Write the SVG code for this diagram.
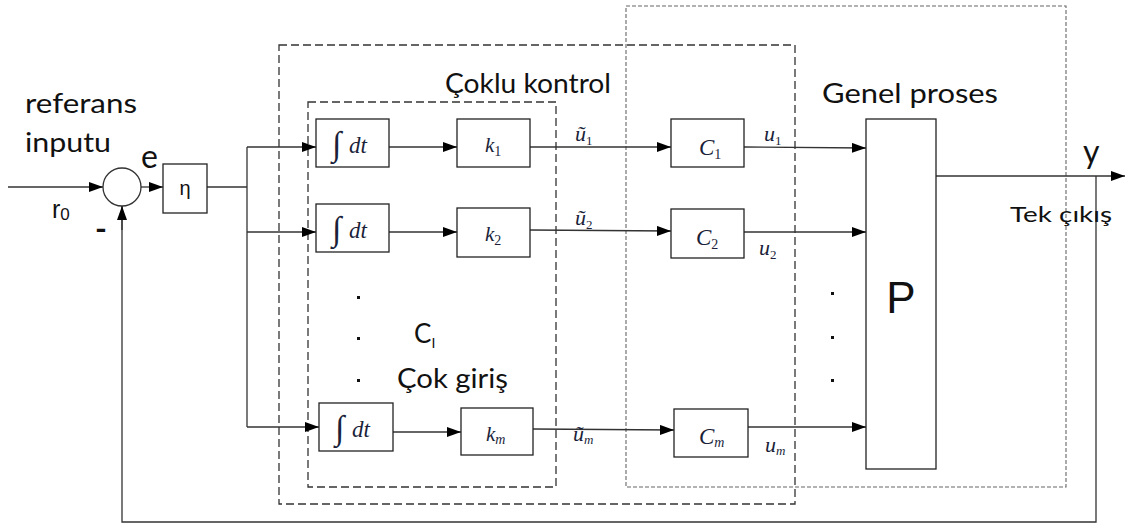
<svg xmlns="http://www.w3.org/2000/svg" width="1132" height="525" viewBox="0 0 1132 525">
<style>
.blk{fill:#fff;stroke:#222;stroke-width:1.3}
.ln{fill:none;stroke:#333;stroke-width:1.3}
.dA{fill:none;stroke:#333;stroke-width:1.3;stroke-dasharray:8 4}
.dB{fill:none;stroke:#666;stroke-width:1.1;stroke-dasharray:4 2}
.lbl{font-family:Lato,"Open Sans",sans-serif;fill:#111}
.m{font-family:"Liberation Serif",serif;font-style:italic;fill:#1b1f3a}
.sub{font-family:"Liberation Serif",serif;font-style:normal;fill:#1b1f3a}
.dot{fill:#111}
</style>
<defs>
<marker id="ar" markerWidth="14" markerHeight="10" refX="14" refY="5" orient="auto" markerUnits="userSpaceOnUse">
<path d="M0,0 L14,5 L0,10 Z" fill="#000"/>
</marker>
</defs>

<!-- dashed regions -->
<g id="region-coklu">
<rect class="dA" x="279" y="45" width="516" height="459"/>
<text class="lbl" x="445" y="93" font-size="26" textLength="166" lengthAdjust="spacingAndGlyphs">Çoklu kontrol</text>
</g>
<g id="region-ci">
<rect class="dA" x="308" y="102" width="248" height="385"/>
<text class="lbl" x="414" y="343" font-size="26">C<tspan font-size="14" dy="5">I</tspan></text>
<text class="lbl" x="397" y="388" font-size="26" textLength="111" lengthAdjust="spacingAndGlyphs">Çok giriş</text>
</g>
<g id="region-genel">
<rect class="dB" x="626" y="6" width="440" height="481"/>
<text class="lbl" x="822" y="103" font-size="26" textLength="176" lengthAdjust="spacingAndGlyphs">Genel proses</text>
</g>

<!-- connectors -->
<g id="connectors">
<line class="ln" x1="8" y1="187" x2="103" y2="187" marker-end="url(#ar)"/>
<line class="ln" x1="141" y1="187" x2="163" y2="187" marker-end="url(#ar)"/>
<polyline class="ln" points="207,187 247,187"/>
<line class="ln" x1="247" y1="147" x2="247" y2="427"/>
<line class="ln" x1="247" y1="147" x2="316" y2="147" marker-end="url(#ar)"/>
<line class="ln" x1="247" y1="232" x2="316" y2="232" marker-end="url(#ar)"/>
<line class="ln" x1="247" y1="427" x2="319" y2="427" marker-end="url(#ar)"/>
<line class="ln" x1="389" y1="147" x2="457" y2="147" marker-end="url(#ar)"/>
<line class="ln" x1="389" y1="232" x2="457" y2="232" marker-end="url(#ar)"/>
<line class="ln" x1="393" y1="432" x2="461" y2="432" marker-end="url(#ar)"/>
<line class="ln" x1="530" y1="147" x2="671" y2="147" marker-end="url(#ar)"/>
<line class="ln" x1="530" y1="230" x2="671" y2="231" marker-end="url(#ar)"/>
<line class="ln" x1="533" y1="429" x2="674" y2="430" marker-end="url(#ar)"/>
<line class="ln" x1="744" y1="147" x2="866" y2="148" marker-end="url(#ar)"/>
<line class="ln" x1="744" y1="232" x2="866" y2="232" marker-end="url(#ar)"/>
<line class="ln" x1="748" y1="427" x2="866" y2="427" marker-end="url(#ar)"/>
<line class="ln" x1="936" y1="176" x2="1125" y2="176" marker-end="url(#ar)"/>
<polyline class="ln" points="1096,176 1096,522 122,522 122,206"/>
<line class="ln" x1="122" y1="230" x2="122" y2="206" marker-end="url(#ar)"/>
</g>

<!-- labels outside nodes -->
<g id="labels">
<text class="lbl" x="25" y="113" font-size="27" textLength="112" lengthAdjust="spacingAndGlyphs">referans</text>
<text class="lbl" x="25" y="152" font-size="27" textLength="86" lengthAdjust="spacingAndGlyphs">inputu</text>
<text class="lbl" x="141" y="168" font-size="32">e</text>
<text x="52" y="218" font-family="Liberation Sans,sans-serif" font-size="25" fill="#111">r<tspan font-size="17" dy="2">0</tspan></text>
<text class="lbl" x="95" y="240" font-size="32" font-weight="bold">-</text>
<text class="m" x="575" y="141" font-size="22">ũ<tspan class="sub" font-size="13" dy="4">1</tspan></text>
<text class="m" x="575" y="225" font-size="22">ũ<tspan class="sub" font-size="13" dy="4">2</tspan></text>
<text class="m" x="573" y="441" font-size="22">ũ<tspan font-size="13" dy="3">m</tspan></text>
<text class="m" x="764" y="141" font-size="22">u<tspan class="sub" font-size="13" dy="4">1</tspan></text>
<text class="m" x="759" y="255" font-size="22">u<tspan class="sub" font-size="13" dy="4">2</tspan></text>
<text class="m" x="765" y="452" font-size="22">u<tspan font-size="13" dy="3">m</tspan></text>
<text class="lbl" x="1083" y="163" font-size="32">y</text>
<text class="lbl" x="1010" y="222" font-size="22" textLength="102" lengthAdjust="spacingAndGlyphs">Tek çıkış</text>
<rect class="dot" x="357" y="296" width="3" height="3"/>
<rect class="dot" x="357" y="337" width="3" height="3"/>
<rect class="dot" x="357" y="379" width="3" height="3"/>
<rect class="dot" x="831" y="292" width="3" height="3"/>
<rect class="dot" x="831" y="336" width="3" height="3"/>
<rect class="dot" x="831" y="379" width="3" height="3"/>
</g>

<!-- nodes -->
<g id="sum"><circle cx="122" cy="187" r="19" fill="#fff" stroke="#333" stroke-width="1.3"/></g>
<g id="eta"><rect class="blk" x="163" y="164" width="44" height="49"/><text x="185" y="195" text-anchor="middle" font-family="Liberation Sans,sans-serif" font-size="20" fill="#111">η</text></g>

<g id="int1"><rect class="blk" x="316" y="119" width="73" height="48"/><text class="m" x="332" y="155" font-size="34" font-style="normal">∫</text><text class="m" x="349" y="153" font-size="23">dt</text></g>
<g id="int2"><rect class="blk" x="316" y="204" width="73" height="48"/><text class="m" x="332" y="240" font-size="34" font-style="normal">∫</text><text class="m" x="349" y="238" font-size="23">dt</text></g>
<g id="intm"><rect class="blk" x="319" y="403" width="74" height="48"/><text class="m" x="335" y="439" font-size="34" font-style="normal">∫</text><text class="m" x="352" y="437" font-size="23">dt</text></g>

<g id="k1"><rect class="blk" x="457" y="119" width="73" height="48"/><text class="m" x="485" y="152" font-size="21">k<tspan class="sub" font-size="14" dy="4">1</tspan></text></g>
<g id="k2"><rect class="blk" x="457" y="208" width="73" height="49"/><text class="m" x="485" y="241" font-size="21">k<tspan class="sub" font-size="14" dy="4">2</tspan></text></g>
<g id="km"><rect class="blk" x="461" y="408" width="72" height="47"/><text class="m" x="486" y="441" font-size="21">k<tspan font-size="14" dy="3">m</tspan></text></g>

<g id="C1"><rect class="blk" x="671" y="119" width="73" height="48"/><text class="m" x="699" y="155" font-size="23">C<tspan class="sub" font-size="14" dy="4">1</tspan></text></g>
<g id="C2"><rect class="blk" x="671" y="209" width="73" height="49"/><text class="m" x="696" y="245" font-size="23">C<tspan class="sub" font-size="14" dy="4">2</tspan></text></g>
<g id="Cm"><rect class="blk" x="674" y="409" width="74" height="48"/><text class="m" x="699" y="444" font-size="23">C<tspan font-size="14" dy="3">m</tspan></text></g>

<g id="P"><rect class="blk" x="866" y="119" width="70" height="350"/><text x="901" y="313" text-anchor="middle" font-family="Liberation Sans,Arial,sans-serif" font-size="44" fill="#111">P</text></g>
</svg>
